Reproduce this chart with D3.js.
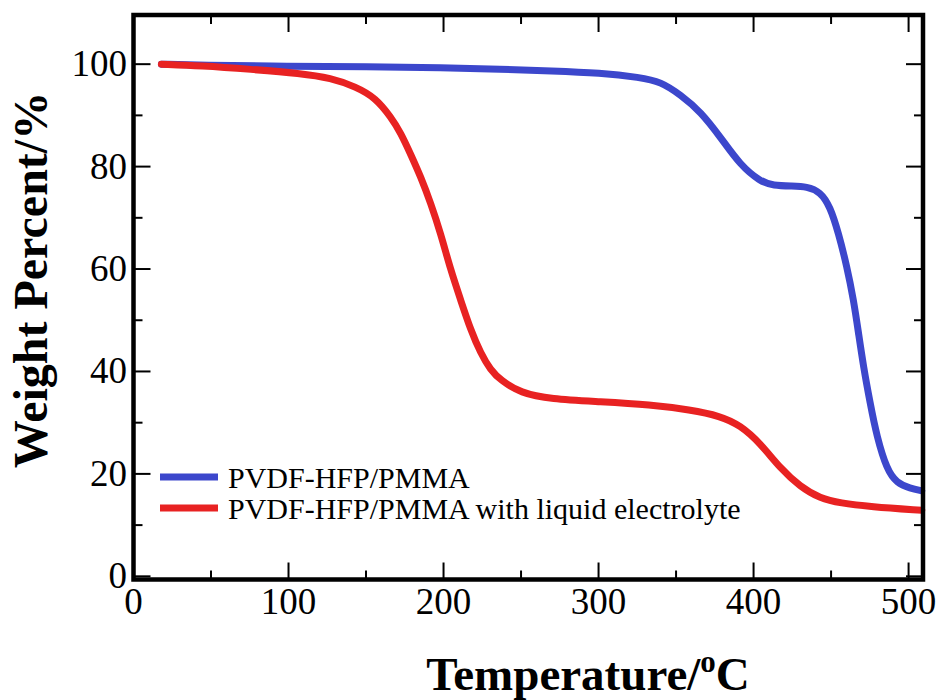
<!DOCTYPE html>
<html>
<head>
<meta charset="utf-8">
<script src="https://cdn.jsdelivr.net/npm/d3@7"></script>
<style>
  html, body { margin: 0; padding: 0; background: #fff; }
  svg { display: block; }
</style>
</head>
<body>
<svg id="chart" width="939" height="700"></svg>
<script>
// TGA weight-loss curves (temperature in °C, weight in %)
const seriesNames = ["PVDF-HFP/PMMA", "PVDF-HFP/PMMA with liquid electrolyte"];
const seriesColors = ["#3c47cc", "#e82222"];

const blueTemp = [18, 43, 100, 150, 200, 237, 270, 301, 327, 340, 353, 366, 379, 391.4, 404.3, 412.7, 425, 434.4, 443, 449.4, 454.8, 460.2, 464.5, 467.7, 470.9, 475.2, 479.5, 486, 492.4, 501, 508.5];
const blueWeight = [100, 99.8, 99.6, 99.5, 99.3, 99.0, 98.7, 98.3, 97.4, 96.6, 94.0, 90.7, 85.6, 80.3, 77.1, 76.3, 76.2, 76.1, 75.1, 72.2, 67.0, 60.5, 54.0, 47.5, 40.9, 33.8, 27.3, 20.8, 18.2, 17.2, 16.7];

const redTemp = [18, 43.5, 75.7, 107.9, 127.3, 143.4, 156.3, 166.2, 172.4, 178.8, 185.3, 191.7, 198.1, 204.6, 211, 217.5, 223.9, 230.3, 236.8, 249.7, 269, 301.2, 333.4, 359.3, 378.5, 391.4, 404.3, 417.2, 430.1, 443, 455.9, 475.2, 508.5];
const redWeight = [100, 99.7, 99.0, 98.2, 97.3, 95.6, 93.4, 89.6, 86.6, 82.4, 78.0, 72.9, 67.0, 59.8, 54.0, 48.1, 43.6, 40.3, 38.3, 35.8, 34.6, 34.1, 33.5, 32.5, 31.3, 29.5, 26.0, 21.1, 17.5, 15.2, 14.3, 13.6, 12.9];

const xMajorTicks = [0, 100, 200, 300, 400, 500];
const xMinorTicks = [50, 150, 250, 350, 450];
const yMajorTicks = [0, 20, 40, 60, 80, 100];
const yMinorTicks = [10, 30, 50, 70, 90];

const xTitle = "Temperature/";
const xTitleSup = "o";
const xTitleEnd = "C";
const yTitle = "Weight Percent/%";

const svg = d3.select("#chart");
const plotLeft = 133.5, plotRight = 923, plotTop = 15, plotBottom = 579.5;

const x = d3.scaleLinear().domain([0, 509.3]).range([plotLeft, plotRight]);
const y = d3.scaleLinear().domain([-0.62, 109.6]).range([plotBottom, plotTop]);

const serif = "'Liberation Serif', 'Times New Roman', serif";

// smooth curves through the measured points
const line = d3.line()
  .x(d => x(d[0]))
  .y(d => y(d[1]))
  .curve(d3.curveBasis);

const series = [
  d3.zip(blueTemp, blueWeight),
  d3.zip(redTemp, redWeight)
];

series.forEach((pts, i) => {
  svg.append("path")
    .datum(pts)
    .attr("d", line)
    .attr("fill", "none")
    .attr("stroke", seriesColors[i])
    .attr("stroke-width", 7)
    .attr("stroke-linecap", "round")
    .attr("stroke-linejoin", "round");
});

// ticks on all four sides, pointing inward
const tickG = svg.append("g").attr("stroke", "#000").attr("stroke-width", 2);
const majorLen = 17, minorLen = 9;
function xTicks(vals, len) {
  vals.forEach(v => {
    tickG.append("line").attr("x1", x(v)).attr("x2", x(v)).attr("y1", plotBottom).attr("y2", plotBottom - len);
    tickG.append("line").attr("x1", x(v)).attr("x2", x(v)).attr("y1", plotTop).attr("y2", plotTop + len);
  });
}
function yTicks(vals, len) {
  vals.forEach(v => {
    tickG.append("line").attr("y1", y(v)).attr("y2", y(v)).attr("x1", plotLeft).attr("x2", plotLeft + len);
    tickG.append("line").attr("y1", y(v)).attr("y2", y(v)).attr("x1", plotRight).attr("x2", plotRight - len);
  });
}
xTicks(xMajorTicks, majorLen);
xTicks(xMinorTicks, minorLen);
yTicks(yMajorTicks, majorLen);
yTicks(yMinorTicks, minorLen);

// frame
svg.append("rect")
  .attr("x", plotLeft).attr("y", plotTop)
  .attr("width", plotRight - plotLeft).attr("height", plotBottom - plotTop)
  .attr("fill", "none").attr("stroke", "#000").attr("stroke-width", 4.5);

// tick labels
svg.append("g").selectAll("text").data(xMajorTicks).join("text")
  .attr("x", d => x(d)).attr("y", 614)
  .attr("text-anchor", "middle")
  .attr("font-family", serif).attr("font-size", 37)
  .text(d => d);

svg.append("g").selectAll("text").data(yMajorTicks).join("text")
  .attr("x", 127).attr("y", d => y(d) + 12)
  .attr("text-anchor", "end")
  .attr("font-family", serif).attr("font-size", 37)
  .text(d => d);

// axis titles
const xt = svg.append("text")
  .attr("x", 588).attr("y", 690)
  .attr("text-anchor", "middle")
  .attr("font-family", serif).attr("font-size", 47).attr("font-weight", "bold");
xt.append("tspan").text(xTitle);
xt.append("tspan").attr("font-size", 31).attr("dy", -18).text(xTitleSup);
xt.append("tspan").attr("dy", 18).text(xTitleEnd);

svg.append("text")
  .attr("transform", "translate(47,280) rotate(-90)")
  .attr("text-anchor", "middle")
  .attr("font-family", serif).attr("font-size", 48).attr("font-weight", "bold")
  .text(yTitle);

// legend
const legendY = [477, 508];
seriesNames.forEach((name, i) => {
  svg.append("line")
    .attr("x1", 160).attr("x2", 218)
    .attr("y1", legendY[i]).attr("y2", legendY[i])
    .attr("stroke", seriesColors[i]).attr("stroke-width", 7);
  svg.append("text")
    .attr("x", 228).attr("y", legendY[i] + 11)
    .attr("font-family", serif).attr("font-size", 30)
    .text(name);
});
</script>
</body>
</html>
